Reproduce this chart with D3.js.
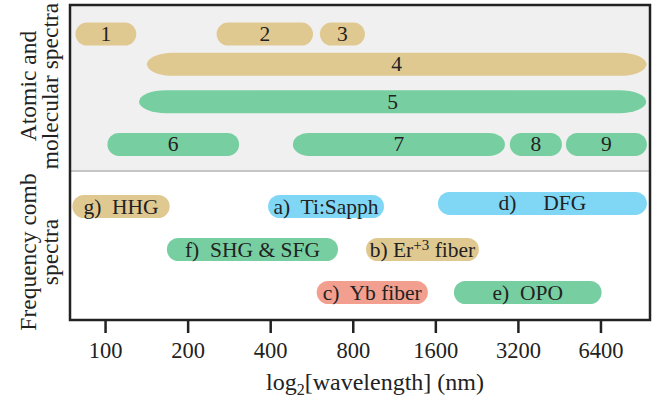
<!DOCTYPE html>
<html lang="en">
<head>
    <meta charset="UTF-8">
    <title>Atomic spectra and frequency combs</title>
    <script src="https://cdnjs.cloudflare.com/ajax/libs/d3/7.8.5/d3.min.js"></script>
    <style>
        body {
            margin: 0;
            padding: 0;
            background-color: white;
        }
    </style>
</head>
<body>
    <div id="chart"></div>

    <script>
        // Atomic and molecular spectra (wavelength ranges in nm)
        const atomicLabels = ["1", "2", "3", "4", "5", "6", "7", "8", "9"];
        const atomicStart  = [78, 255, 607, 142, 133, 102, 484, 2990, 4790];
        const atomicEnd    = [130, 573, 886, 9420, 9400, 308, 2870, 4630, 9450];
        const atomicGroup  = ["atomic", "atomic", "atomic", "atomic", "molecular", "molecular", "molecular", "molecular", "molecular"];
        const atomicTrack  = [0.70, 0.70, 0.70, 1.43, 2.33, 3.36, 3.36, 3.36, 3.36];

        // Frequency comb sources
        const combLabels = ["g)  HHG", "a)  Ti:Sapph", "d)     DFG", "f)  SHG & SFG", "b) Er^{+3} fiber", "c)  Yb fiber", "e)  OPO"];
        const combStart  = [76, 393, 1636, 168, 894, 591, 1870];
        const combEnd    = [172, 1040, 9450, 707, 2307, 1503, 6460];
        const combGroup  = ["harmonic", "solid", "solid", "nonlinear", "harmonic", "fiber", "nonlinear"];
        const combTrack  = [0.50, 0.50, 0.43, 1.50, 1.50, 2.50, 2.50];

        const tickValues = [100, 200, 400, 800, 1600, 3200, 6400];

        const width = 665, height = 401;
        const plotLeft = 70, plotRight = 650, plotTop = 5, plotSplit = 171, plotBottom = 320;
        const serif = '"Liberation Serif", "Times New Roman", serif';
        const ink = '#222';

        const svg = d3.select('#chart').append('svg')
            .attr('width', width)
            .attr('height', height);

        const x = d3.scaleLog().base(2)
            .domain([74.5, 9700])
            .range([plotLeft, plotRight]);

        const yTop = d3.scaleLinear().domain([0, 4]).range([plotTop, plotSplit]);
        const yBottom = d3.scaleLinear().domain([0, 3]).range([plotSplit + 14, plotBottom - 6]);

        const color = d3.scaleOrdinal()
            .domain(["atomic", "molecular", "harmonic", "solid", "nonlinear", "fiber"])
            .range(["#e0c991", "#77cfa1", "#e0c991", "#80d7f5", "#77cfa1", "#f29f8f"]);

        // ends that are drawn as long ellipses instead of half circles
        const endRadius = { "4": 26, "5": 27, "7": 16 };
        const barH = 23;

        // background of the upper section
        svg.append('rect')
            .attr('x', plotLeft).attr('y', plotTop)
            .attr('width', plotRight - plotLeft).attr('height', plotSplit - plotTop)
            .attr('fill', '#f0f0f0');
        svg.append('line')
            .attr('x1', plotLeft).attr('x2', plotRight)
            .attr('y1', plotSplit).attr('y2', plotSplit)
            .attr('stroke', '#c6c6c6').attr('stroke-width', 2);

        function drawLabel(sel, label) {
            const m = label.match(/^(.*)\^\{(.+?)\}(.*)$/);
            if (!m) { sel.text(label); return; }
            sel.append('tspan').text(m[1]);
            sel.append('tspan').attr('dy', -7).style('font-size', '15px').text(m[2]);
            sel.append('tspan').attr('dy', 7).text(m[3]);
        }

        function drawBars(labels, starts, ends, groups, tracks, y) {
            const data = labels.map((l, i) => ({
                label: l, start: starts[i], end: ends[i], group: groups[i], track: tracks[i]
            }));
            const g = svg.append('g');
            g.selectAll('rect')
                .data(data)
                .enter().append('rect')
                .attr('x', d => x(d.start))
                .attr('y', d => y(d.track) - barH / 2)
                .attr('width', d => x(d.end) - x(d.start))
                .attr('height', barH)
                .attr('rx', d => endRadius[d.label] || barH / 2)
                .attr('ry', barH / 2)
                .attr('fill', d => color(d.group));
            g.selectAll('text')
                .data(data)
                .enter().append('text')
                .attr('x', d => (x(d.start) + x(d.end)) / 2)
                .attr('y', d => y(d.track) + 7)
                .attr('text-anchor', 'middle')
                .style('font-family', serif)
                .style('font-size', '21.5px')
                .style('fill', ink)
                .style('white-space', 'pre')
                .each(function(d) { drawLabel(d3.select(this), d.label); });
        }

        drawBars(atomicLabels, atomicStart, atomicEnd, atomicGroup, atomicTrack, yTop);
        drawBars(combLabels, combStart, combEnd, combGroup, combTrack, yBottom);

        // frame
        svg.append('rect')
            .attr('x', plotLeft).attr('y', plotTop)
            .attr('width', plotRight - plotLeft).attr('height', plotBottom - plotTop)
            .attr('fill', 'none')
            .attr('stroke', ink)
            .attr('stroke-width', 2.5);

        // x axis
        const axis = svg.append('g')
            .attr('transform', `translate(0,${plotBottom})`)
            .call(d3.axisBottom(x)
                .tickValues(tickValues)
                .tickFormat(d3.format('d'))
                .tickSize(13)
                .tickPadding(9));
        axis.select('.domain').remove();
        axis.selectAll('.tick line').attr('stroke', ink).attr('stroke-width', 2.5);
        axis.selectAll('.tick text')
            .style('font-family', serif)
            .style('font-size', '22.5px')
            .style('fill', ink);

        const xl = svg.append('text')
            .attr('x', 375).attr('y', 390)
            .attr('text-anchor', 'middle')
            .style('font-family', serif)
            .style('font-size', '24px')
            .style('fill', ink);
        xl.append('tspan').text('log');
        xl.append('tspan').attr('dy', 5).style('font-size', '16px').text('2');
        xl.append('tspan').attr('dy', -5).text('[wavelength] (nm)');

        // y section titles
        function sideTitle(lines, cy) {
            const xs = [36, 58];
            lines.forEach((t, i) => {
                svg.append('text')
                    .attr('transform', `translate(${xs[i]},${cy}) rotate(-90)`)
                    .attr('text-anchor', 'middle')
                    .style('font-family', serif)
                    .style('font-size', '23.5px')
                    .style('fill', ink)
                    .text(t);
            });
        }
        sideTitle(['Atomic and', 'molecular spectra'], 86);
        sideTitle(['Frequency comb', 'spectra'], 252);
    </script>
</body>
</html>
